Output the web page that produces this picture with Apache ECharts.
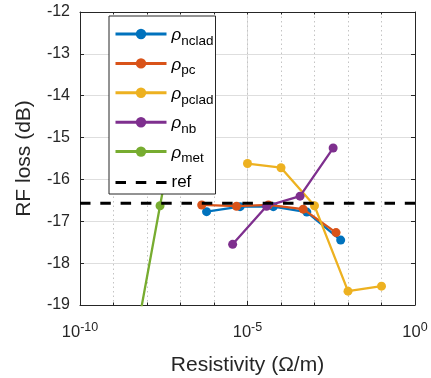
<!DOCTYPE html>
<html><head><meta charset="utf-8">
<script src="https://cdn.jsdelivr.net/npm/echarts@6/dist/echarts.min.js"></script>
<style>html,body{margin:0;padding:0;background:#fff}#c{width:431px;height:378px}</style>
</head><body><div id="c"></div>
<script>
// ---- data ----
const ncladX = [6.0e-7, 6.0e-6, 5.9e-5, 5.9e-4, 6.05e-3];
const ncladY = [-16.77, -16.65, -16.65, -16.78, -17.45];
const pcX = [4.3e-7, 4.7e-6, 4.2e-5, 4.6e-4, 4.4e-3];
const pcY = [-16.61, -16.64, -16.61, -16.71, -17.27];
const pcladX = [1e-5, 1e-4, 1e-3, 1e-2, 1e-1];
const pcladY = [-15.62, -15.72, -16.63, -18.67, -18.55];
const nbX = [3.6e-6, 3.7e-5, 3.7e-4, 3.6e-3];
const nbY = [-17.55, -16.64, -16.40, -15.25];
const metX = [2.45e-9, 2.45e-8, 2.45e-7];
const metY = [-21.0, -16.63, -12.3];
const refX = [1e-10, 1];
const refY = [-16.57, -16.57];
const subNames = ['nclad', 'pc', 'pclad', 'nb', 'met'];
const colors = ['#0072BD', '#D95319', '#EDB120', '#7E2F8E', '#77AC30'];
const yTicks = [-19, -18, -17, -16, -15, -14, -13, -12];

const FONT = 'Liberation Sans, Arial, Helvetica, sans-serif';
const AX = '#262626';
const zip = (xs, ys) => xs.map((x, i) => [x, ys[i]]);
const seriesData = [zip(ncladX, ncladY), zip(pcX, pcY), zip(pcladX, pcladY), zip(nbX, nbY), zip(metX, metY)];

const series = subNames.map((n, i) => ({
  name: 'ρ_' + n, type: 'line', data: seriesData[i],
  xAxisIndex: 0, yAxisIndex: 0,
  symbol: 'circle', symbolSize: 9, showAllSymbol: true,
  lineStyle: { color: colors[i], width: 2.3 },
  itemStyle: { color: colors[i] },
  clip: true, z: 2 + i * 0.01
}));
series.push({
  name: 'ref', type: 'line', data: zip(refX, refY), xAxisIndex: 0, yAxisIndex: 0,
  symbol: 'none', lineStyle: { color: '#000', width: 3, type: [10.5, 9.8] },
  itemStyle: { color: '#000' }, z: 3
});

const logMin = 1e-10, logMax = 1;
const chart = echarts.init(document.getElementById('c'), null, { renderer: 'canvas' });
chart.setOption({
  animation: false,
  backgroundColor: '#fff',
  grid: { left: 80, right: 16, top: 12, bottom: 73, outerBoundsMode: 'none' },
  xAxis: [
    {
      type: 'log', logBase: 10, min: logMin, max: logMax, interval: 5, position: 'bottom',
      axisLine: { show: true, onZero: false, lineStyle: { color: AX, width: 1 } },
      axisTick: { show: true, inside: true, length: 4, lineStyle: { color: AX } },
      axisLabel: {
        margin: 16, color: AX, fontFamily: FONT,
        formatter: v => '{b|10}{e|' + Math.round(Math.log10(v)) + '}',
        rich: {
          b: { fontSize: 16.5, fontFamily: FONT, color: AX, verticalAlign: 'bottom' },
          e: { fontSize: 12.5, fontFamily: FONT, color: AX, verticalAlign: 'bottom', padding: [0, 0, 7, 0] }
        }
      },
      splitLine: { show: true, lineStyle: { color: '#dedede', width: 1 } },
      name: 'Resistivity (Ω/m)', nameLocation: 'middle', nameGap: 50,
      nameTextStyle: { fontSize: 21, fontFamily: FONT, color: AX }
    },
    {
      type: 'log', logBase: 10, min: logMin, max: logMax, interval: 1, position: 'bottom',
      axisLine: { show: false, onZero: false },
      axisTick: { show: true, inside: true, length: 2.5, lineStyle: { color: AX } },
      axisLabel: { show: false },
      splitLine: { show: true, lineStyle: { color: '#c4c4c4', width: 1, type: [1.5, 3] } }
    },
    {
      type: 'log', logBase: 10, min: logMin, max: logMax, interval: 1, position: 'top',
      axisLine: { show: true, onZero: false, lineStyle: { color: AX, width: 1 } },
      axisTick: { show: true, inside: true, length: 2.5, lineStyle: { color: AX } },
      axisLabel: { show: false }, splitLine: { show: false }
    }
  ],
  yAxis: [
    {
      type: 'value', min: yTicks[0], max: yTicks[yTicks.length - 1], interval: 1,
      axisLine: { show: true, onZero: false, lineStyle: { color: AX, width: 1 } },
      axisTick: { show: true, inside: true, length: 4, lineStyle: { color: AX } },
      axisLabel: { margin: 10, fontSize: 16, fontFamily: FONT, color: AX },
      splitLine: { show: true, lineStyle: { color: '#dedede', width: 1 } },
      name: 'RF loss (dB)', nameLocation: 'middle', nameGap: 45, nameRotate: 90,
      nameTextStyle: { fontSize: 21, fontFamily: FONT, color: AX }
    },
    {
      type: 'value', position: 'right', min: yTicks[0], max: yTicks[yTicks.length - 1], interval: 1,
      axisLine: { show: true, onZero: false, lineStyle: { color: AX, width: 1 } },
      axisTick: { show: true, inside: true, length: 4, lineStyle: { color: AX } },
      axisLabel: { show: false }, splitLine: { show: false }
    }
  ],
  legend: {
    orient: 'vertical', left: 109, top: 16, padding: [11, 2, 3, 5], itemGap: 8.4,
    itemWidth: 51, itemHeight: 13,
    borderColor: AX, borderWidth: 1, borderRadius: 0, backgroundColor: '#fff',
    lineStyle: { width: 3 },
    data: subNames.map(n => 'ρ_' + n).concat([{ name: 'ref', itemStyle: { opacity: 0 } }]),
    formatter: name => name === 'ref' ? '{t|ref}' : '{r|ρ}{s|' + name.slice(2) + '}',
    textStyle: {
      color: '#000', fontFamily: FONT,
      rich: {
        r: { fontSize: 17, fontStyle: 'italic', fontFamily: FONT, color: '#000', verticalAlign: 'top', padding: [7, 0, 0, 0] },
        s: { fontSize: 13.5, fontFamily: FONT, color: '#000', verticalAlign: 'top', padding: [14, 0, 0, 0] },
        t: { fontSize: 17, fontFamily: FONT, color: '#000' }
      }
    }
  },
  series: series
});
</script>
</body></html>
